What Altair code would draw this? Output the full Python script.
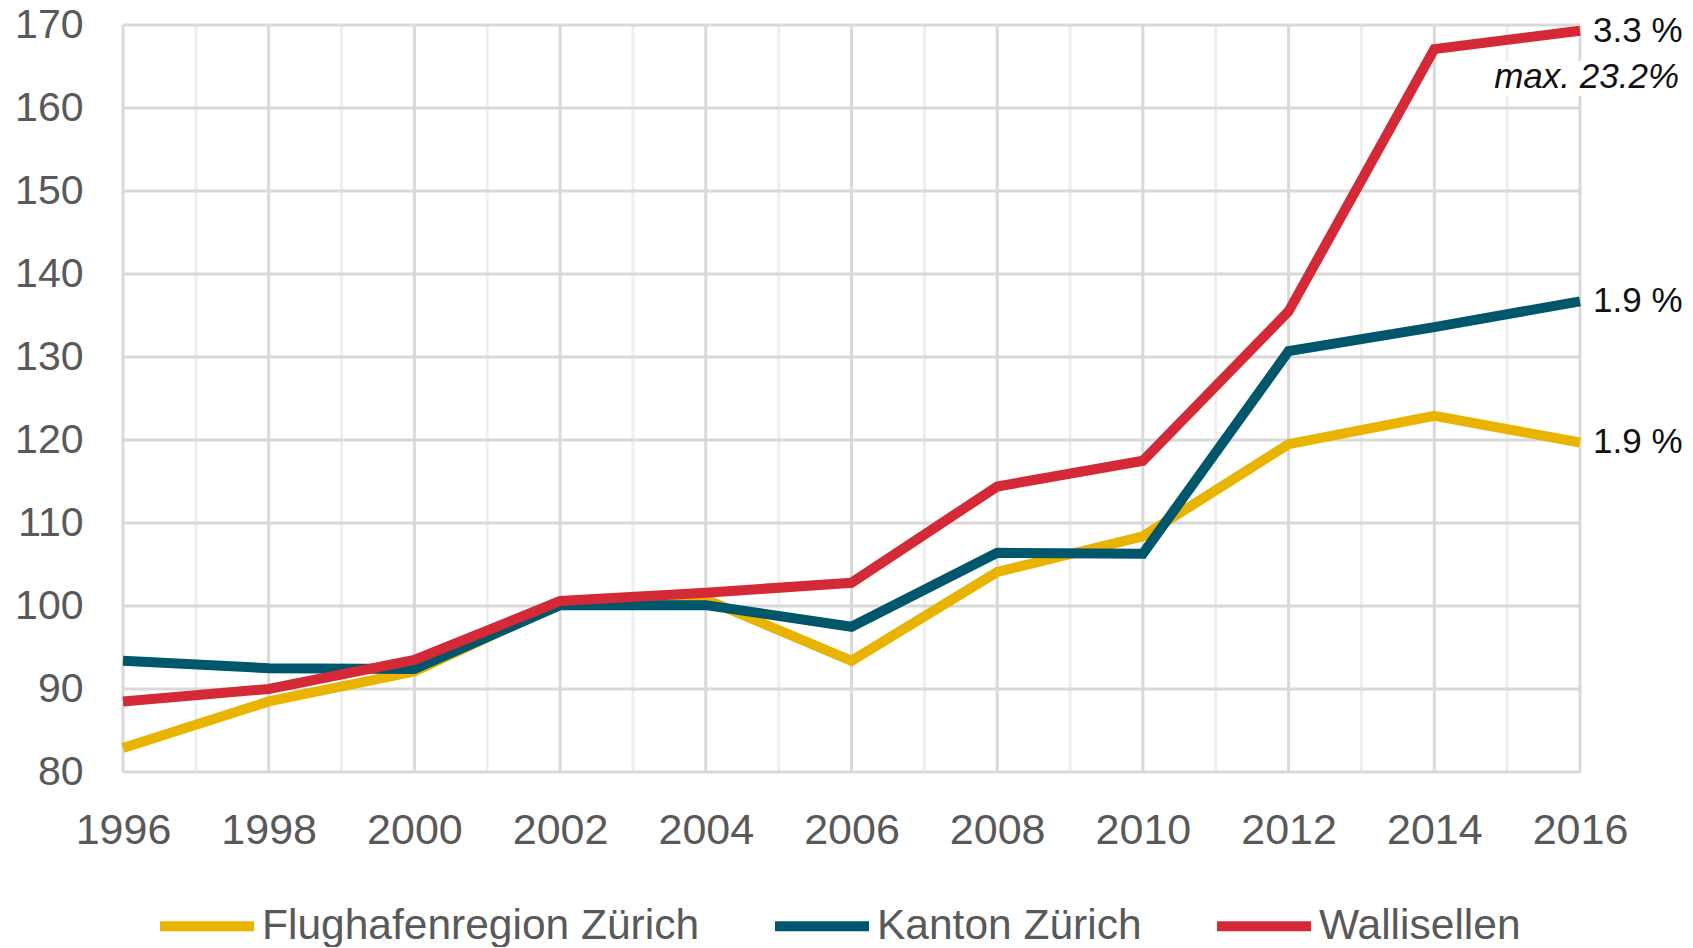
import altair as alt
import pandas as pd

# ---- data ----
years = [1996, 1998, 2000, 2002, 2004, 2006, 2008, 2010, 2012, 2014, 2016]
flughafen = [82.9, 88.5, 92.1, 100.3, 100.8, 93.4, 104.1, 108.4, 119.5, 122.9, 119.7]
kanton = [93.4, 92.5, 92.4, 100.1, 100.1, 97.5, 106.4, 106.3, 130.7, 133.6, 136.7]
wallisellen = [88.5, 90.0, 93.5, 100.6, 101.6, 102.8, 114.4, 117.5, 135.5, 167.1, 169.3]
series = ["Flughafenregion Zürich", "Kanton Zürich", "Wallisellen"]
colors = ["#E8B400", "#00566B", "#D42936"]
end_labels = ["1.9 %", "1.9 %", "3.3 %"]
note_text = ["max. 23.2%"]
y_ticks = [80, 90, 100, 110, 120, 130, 140, 150, 160, 170]
x_ticks = [1996, 1998, 2000, 2002, 2004, 2006, 2008, 2010, 2012, 2014, 2016]
minor_years = [1997, 1999, 2001, 2003, 2005, 2007, 2009, 2011, 2013, 2015]

rows = []
for name, vals in zip(series, [flughafen, kanton, wallisellen]):
    for i, (yr, v) in enumerate(zip(years, vals)):
        rows.append({"year": yr, "value": v, "series": name, "order": i})
df = pd.DataFrame(rows)

ends = pd.DataFrame({
    "year": [years[-1]] * 3,
    "value": [flughafen[-1], kanton[-1], wallisellen[-1]],
    "label": end_labels,
})
note = pd.DataFrame({"year": [years[-1]], "value": [wallisellen[-1]], "label": note_text})

LABEL_FONT = "Liberation Sans"
ANN_FONT = "Liberation Sans"
GRAY = "#595959"
GRID_DARK = "#D9D9D9"
GRID_LIGHT = "#EFEFEF"

xs = alt.Scale(domain=[1996, 2016], nice=False, zero=False)
ys = alt.Scale(domain=[80, 170], nice=False, zero=False)

minor = alt.Chart(pd.DataFrame({"year": minor_years})).mark_rule(
    color=GRID_LIGHT, strokeWidth=3
).encode(x=alt.X("year:Q", scale=xs))

hgrid = alt.Chart(pd.DataFrame({"value": y_ticks})).mark_rule(
    color=GRID_DARK, strokeWidth=3
).encode(y=alt.Y("value:Q", scale=ys))

vgrid = alt.Chart(pd.DataFrame({"year": x_ticks})).mark_rule(
    color=GRID_DARK, strokeWidth=3
).encode(x=alt.X("year:Q", scale=xs))

lines = alt.Chart(df).mark_line(strokeWidth=10).encode(
    x=alt.X(
        "year:Q", scale=xs, title=None,
        axis=alt.Axis(values=x_ticks, format="d", labelFontSize=43, labelColor=GRAY,
                      labelFont=LABEL_FONT, ticks=False, domain=False, grid=False,
                      labelPadding=37, labelFlush=False),
    ),
    y=alt.Y(
        "value:Q", scale=ys, title=None,
        axis=alt.Axis(values=y_ticks, labelFontSize=41, labelColor=GRAY,
                      labelFont=LABEL_FONT, ticks=False, domain=False, grid=False,
                      labelPadding=40),
    ),
    color=alt.Color(
        "series:N",
        scale=alt.Scale(domain=series, range=colors),
        legend=alt.Legend(
            title=None, orient="none", direction="horizontal",
            legendX=32, legendY=849,
            symbolType="stroke", symbolSize=8836, symbolStrokeWidth=10,
            labelFontSize=42.5, labelColor=GRAY, labelFont=LABEL_FONT, labelLimit=0,
            labelOffset=3, columnPadding=55, padding=0, columns=3,
        ),
    ),
    order=alt.Order("order:Q"),
)

end_text = alt.Chart(ends).mark_text(
    align="left", baseline="middle", dx=13, fontSize=35, font=ANN_FONT, color="#111111"
).encode(x=alt.X("year:Q", scale=xs), y=alt.Y("value:Q", scale=ys), text="label:N")

note_halo = alt.Chart(note).mark_text(
    align="right", baseline="middle", dx=99, dy=46, fontSize=35, font=ANN_FONT,
    fontStyle="italic", color="white", stroke="white", strokeWidth=16, strokeJoin="round"
).encode(x=alt.X("year:Q", scale=xs), y=alt.Y("value:Q", scale=ys), text="label:N")

note_text_mark = alt.Chart(note).mark_text(
    align="right", baseline="middle", dx=99, dy=46, fontSize=35, font=ANN_FONT,
    fontStyle="italic", color="#111111"
).encode(x=alt.X("year:Q", scale=xs), y=alt.Y("value:Q", scale=ys), text="label:N")

chart = alt.layer(
    minor, hgrid, vgrid, lines, end_text, note_halo, note_text_mark
).properties(
    width=1457, height=747,
    autosize=alt.AutoSizeParams(type="none"),
    padding={"left": 115, "top": 17, "right": 104, "bottom": 175},
).configure_view(stroke=None).configure(background="white")

chart.save("out.html", embed_options={"renderer": "svg", "actions": False})
